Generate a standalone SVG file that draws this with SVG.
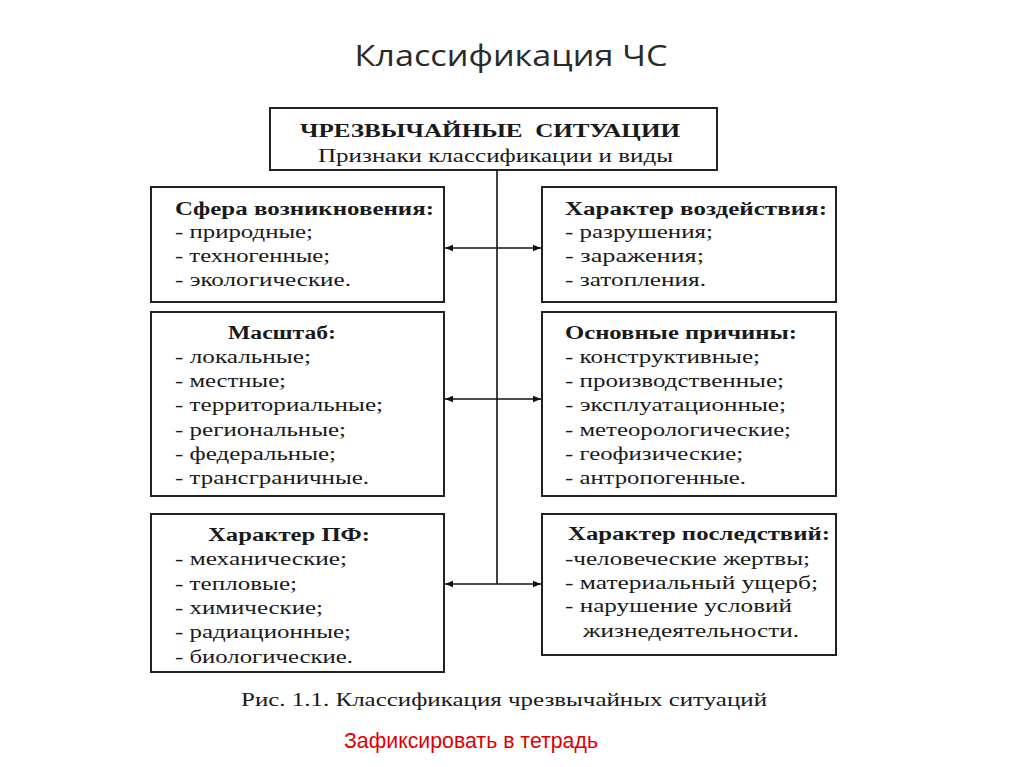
<svg xmlns="http://www.w3.org/2000/svg" width="1024" height="767" viewBox="0 0 1024 767">
<defs>
<marker id="ah" viewBox="0 0 10 10" refX="10" refY="5" markerWidth="10" markerHeight="8" markerUnits="userSpaceOnUse" orient="auto-start-reverse">
<path d="M0,1 L10,5 L0,9 Z" fill="#111"/>
</marker>
</defs>
<style>
.box{fill:#fff;stroke:#222;stroke-width:2}
.t{font-family:"Liberation Serif","Times New Roman",serif;font-size:18px;fill:#1a1a1a}
.b{font-weight:bold}
.ln{stroke:#111;stroke-width:1.6;fill:none}
</style>
<rect width="1024" height="767" fill="#fff"/>
<text x="511" y="66" text-anchor="middle" font-family="'Open Sans','Noto Sans',sans-serif" font-size="30" fill="#2a2a2a" textLength="313" lengthAdjust="spacingAndGlyphs">Классификация ЧС</text>

<g id="connectors">
<line class="ln" x1="497" y1="170" x2="497" y2="584"/>
<line class="ln" x1="445" y1="248" x2="541" y2="248" marker-start="url(#ah)" marker-end="url(#ah)"/>
<line class="ln" x1="445" y1="399" x2="541" y2="399" marker-start="url(#ah)" marker-end="url(#ah)"/>
<line class="ln" x1="445" y1="584" x2="541" y2="584" marker-start="url(#ah)" marker-end="url(#ah)"/>
</g>

<g id="top">
<rect class="box" x="270" y="108" width="447" height="62"/>
<text class="t b" x="300" y="137" textLength="380" lengthAdjust="spacingAndGlyphs" xml:space="preserve">ЧРЕЗВЫЧАЙНЫЕ  СИТУАЦИИ</text>
<text class="t" x="318" y="162" textLength="355" lengthAdjust="spacingAndGlyphs">Признаки классификации и виды</text>
</g>

<g id="sfera">
<rect class="box" x="151" y="187" width="293" height="115"/>
<text class="t b" x="175" y="215" textLength="259" lengthAdjust="spacingAndGlyphs">Сфера возникновения:</text>
<text class="t" x="175" y="238" textLength="138" lengthAdjust="spacingAndGlyphs">- природные;</text>
<text class="t" x="175" y="262" textLength="155" lengthAdjust="spacingAndGlyphs">- техногенные;</text>
<text class="t" x="175" y="286" textLength="176" lengthAdjust="spacingAndGlyphs">- экологические.</text>
</g>

<g id="vozd">
<rect class="box" x="542" y="187" width="294" height="115"/>
<text class="t b" x="565" y="215" textLength="262" lengthAdjust="spacingAndGlyphs">Характер воздействия:</text>
<text class="t" x="565" y="238" textLength="148" lengthAdjust="spacingAndGlyphs">- разрушения;</text>
<text class="t" x="565" y="262" textLength="139" lengthAdjust="spacingAndGlyphs">- заражения;</text>
<text class="t" x="565" y="286" textLength="141" lengthAdjust="spacingAndGlyphs">- затопления.</text>
</g>

<g id="masshtab">
<rect class="box" x="151" y="312" width="293" height="184"/>
<text class="t b" x="228" y="339" textLength="108" lengthAdjust="spacingAndGlyphs">Масштаб:</text>
<text class="t" x="175" y="363" textLength="136" lengthAdjust="spacingAndGlyphs">- локальные;</text>
<text class="t" x="175" y="387" textLength="111" lengthAdjust="spacingAndGlyphs">- местные;</text>
<text class="t" x="175" y="411" textLength="208" lengthAdjust="spacingAndGlyphs">- территориальные;</text>
<text class="t" x="175" y="436" textLength="171" lengthAdjust="spacingAndGlyphs">- региональные;</text>
<text class="t" x="175" y="460" textLength="161" lengthAdjust="spacingAndGlyphs">- федеральные;</text>
<text class="t" x="175" y="484" textLength="194" lengthAdjust="spacingAndGlyphs">- трансграничные.</text>
</g>

<g id="prichiny">
<rect class="box" x="542" y="312" width="294" height="184"/>
<text class="t b" x="565" y="339" textLength="232" lengthAdjust="spacingAndGlyphs">Основные причины:</text>
<text class="t" x="565" y="363" textLength="195" lengthAdjust="spacingAndGlyphs">- конструктивные;</text>
<text class="t" x="565" y="387" textLength="219" lengthAdjust="spacingAndGlyphs">- производственные;</text>
<text class="t" x="565" y="411" textLength="221" lengthAdjust="spacingAndGlyphs">- эксплуатационные;</text>
<text class="t" x="565" y="436" textLength="226" lengthAdjust="spacingAndGlyphs">- метеорологические;</text>
<text class="t" x="565" y="460" textLength="178" lengthAdjust="spacingAndGlyphs">- геофизические;</text>
<text class="t" x="565" y="484" textLength="181" lengthAdjust="spacingAndGlyphs">- антропогенные.</text>
</g>

<g id="pf">
<rect class="box" x="151" y="514" width="293" height="158"/>
<text class="t b" x="208" y="541" textLength="162" lengthAdjust="spacingAndGlyphs">Характер ПФ:</text>
<text class="t" x="175" y="565" textLength="172" lengthAdjust="spacingAndGlyphs">- механические;</text>
<text class="t" x="175" y="590" textLength="122" lengthAdjust="spacingAndGlyphs">- тепловые;</text>
<text class="t" x="175" y="614" textLength="148" lengthAdjust="spacingAndGlyphs">- химические;</text>
<text class="t" x="175" y="638" textLength="176" lengthAdjust="spacingAndGlyphs">- радиационные;</text>
<text class="t" x="175" y="663" textLength="178" lengthAdjust="spacingAndGlyphs">- биологические.</text>
</g>

<g id="posledstviya">
<rect class="box" x="542" y="514" width="294" height="141"/>
<text class="t b" x="568" y="540" textLength="262" lengthAdjust="spacingAndGlyphs">Характер последствий:</text>
<text class="t" x="565" y="565" textLength="245" lengthAdjust="spacingAndGlyphs">-человеческие жертвы;</text>
<text class="t" x="565" y="589" textLength="253" lengthAdjust="spacingAndGlyphs">- материальный ущерб;</text>
<text class="t" x="565" y="612" textLength="227" lengthAdjust="spacingAndGlyphs">- нарушение условий</text>
<text class="t" x="583" y="637" textLength="216" lengthAdjust="spacingAndGlyphs">жизнедеятельности.</text>
</g>

<text class="t" x="241" y="706" textLength="526" lengthAdjust="spacingAndGlyphs">Рис. 1.1. Классификация чрезвычайных ситуаций</text>
<text x="344" y="748" font-family="'Liberation Sans',Arial,sans-serif" font-size="22" fill="#e00000" textLength="254" lengthAdjust="spacingAndGlyphs">Зафиксировать в тетрадь</text>
</svg>
